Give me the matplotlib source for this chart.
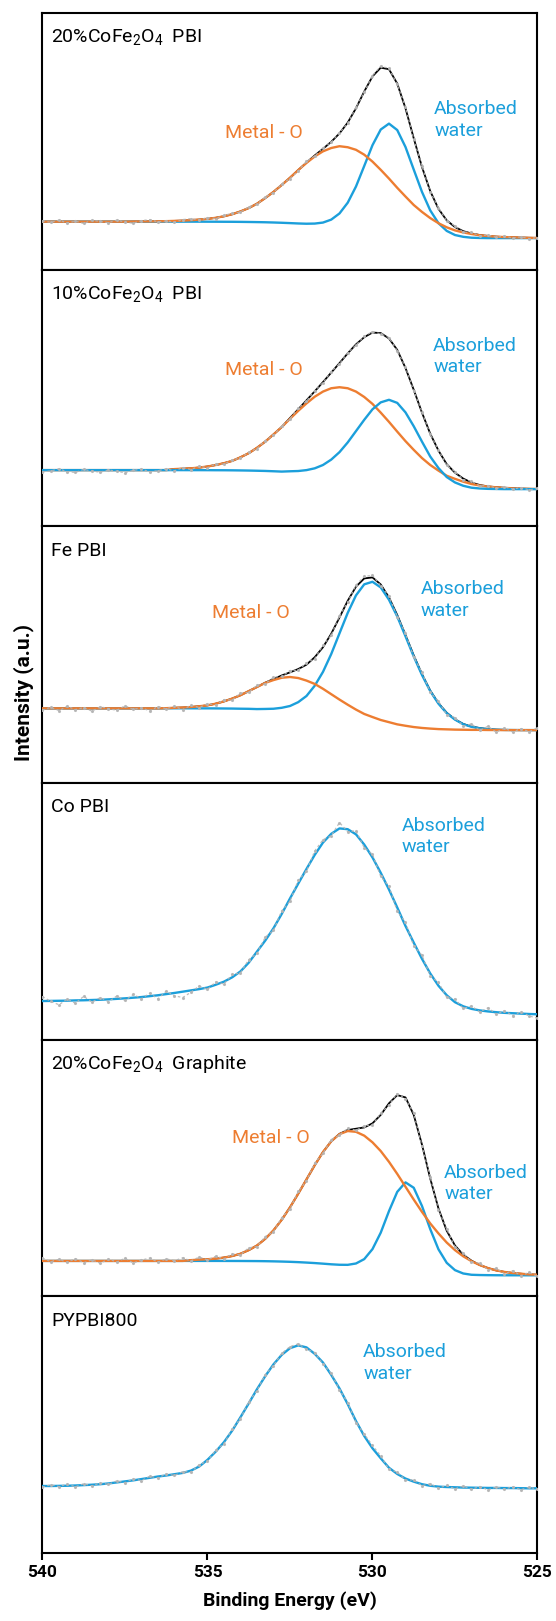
import numpy as np
import matplotlib.pyplot as plt

plt.rcParams['font.family'] = ['Roboto', 'DejaVu Sans']
plt.rcParams['mathtext.fontset'] = 'custom'
plt.rcParams['mathtext.rm'] = 'Roboto'
plt.rcParams['mathtext.it'] = 'Roboto:italic'
plt.rcParams['mathtext.bf'] = 'Roboto:bold'

ORANGE = '#ED7D31'
BLUE = '#1B9FDB'
RAW = '#b4b4b4'

# binding energy axis of the O 1s scans (eV), 0.25 eV steps
be = np.linspace(540, 525, 61)

# --- 20%CoFe2O4 PBI ---
raw_1 = [19.1, 18.4, 19.3, 18.2, 18.9, 18.0, 19.2, 18.8, 18.3, 19.3, 18.5, 18.1, 19.1, 19.5, 18.6, 19.0,
         18.5, 19.5, 19.9, 19.3, 20.3, 19.9, 21.2, 21.9, 22.4, 24.5, 25.4, 28.3, 30.0, 33.4, 35.5, 38.4,
         42.2, 44.3, 47.4, 49.6, 53.4, 57.0, 63.2, 69.1, 75.6, 79.3, 78.4, 72.2, 63.3, 50.8, 40.4, 30.3,
         24.1, 19.0, 17.0, 14.7, 14.5, 13.2, 13.5, 12.6, 13.1, 12.3, 12.8, 12.1, 12.5]
env_1 = [18.7, 18.7, 18.7, 18.7, 18.7, 18.7, 18.7, 18.7, 18.7, 18.7, 18.7, 18.75, 18.8, 18.8, 18.85, 18.9,
         19.0, 19.1, 19.3, 19.5, 19.8, 20.2, 20.8, 21.6, 22.7, 24.0, 25.7, 27.9, 30.3, 33.0, 35.8, 38.8,
         41.7, 44.5, 47.1, 49.8, 53.1, 57.3, 62.9, 69.4, 75.3, 78.7, 78.1, 72.5, 62.9, 51.2, 40.0, 30.6,
         23.7, 19.2, 16.6, 15.0, 14.1, 13.5, 13.1, 12.85, 12.7, 12.6, 12.5, 12.4, 12.35]
metal_1 = [18.7, 18.7, 18.7, 18.7, 18.7, 18.7, 18.7, 18.7, 18.7, 18.7, 18.7, 18.75, 18.8, 18.8, 18.85, 18.9,
           19.0, 19.1, 19.3, 19.5, 19.8, 20.2, 20.8, 21.6, 22.7, 24.0, 25.7, 27.9, 30.3, 33.0, 35.8, 38.8,
           41.6, 44.1, 46.1, 47.4, 48.1, 47.7, 46.7, 44.8, 42.1, 38.9, 35.5, 31.9, 28.5, 25.2, 22.5, 20.1,
           18.1, 16.5, 15.3, 14.5, 13.9, 13.4, 13.1, 12.85, 12.7, 12.6, 12.5, 12.4, 12.35]
water_1 = [18.7, 18.7, 18.7, 18.7, 18.7, 18.7, 18.7, 18.7, 18.7, 18.7, 18.7, 18.7, 18.7, 18.7, 18.7, 18.7,
           18.7, 18.7, 18.7, 18.7, 18.69, 18.68, 18.66, 18.65, 18.62, 18.58, 18.53, 18.47, 18.38, 18.27,
           18.14, 18.0, 17.9, 17.96, 18.35, 19.5, 21.9, 26.1, 32.4, 40.4, 48.5, 54.6, 56.9, 54.4, 47.8,
           39.0, 30.3, 23.1, 18.1, 15.1, 13.5, 12.8, 12.45, 12.35, 12.3, 12.3, 12.3, 12.3, 12.3, 12.3, 12.3]

# --- 10%CoFe2O4 PBI ---
raw_2 = [21.2, 21.6, 22.4, 21.3, 21.0, 22.2, 21.5, 21.1, 22.0, 21.4, 20.9, 21.8, 22.3, 21.2, 21.7, 22.4,
         21.6, 22.9, 22.1, 23.4, 22.8, 24.3, 24.2, 25.9, 26.6, 28.9, 30.3, 33.4, 35.5, 39.1, 41.9, 46.0,
         48.8, 52.9, 56.0, 60.3, 63.3, 67.7, 70.6, 74.1, 75.8, 75.0, 73.5, 68.4, 62.0, 52.9, 44.6, 35.8,
         29.8, 23.8, 21.3, 18.2, 17.5, 15.7, 15.9, 14.8, 15.4, 14.5, 15.1, 14.2, 14.8]
env_2 = [21.9, 21.9, 21.9, 21.9, 21.9, 21.9, 21.9, 21.9, 21.9, 21.9, 21.9, 21.9, 21.9, 21.9, 21.9, 21.9,
         22.3, 22.45, 22.6, 22.9, 23.3, 23.9, 24.6, 25.5, 26.9, 28.5, 30.6, 33.0, 35.8, 38.7,
         42.2, 45.6, 49.1, 52.6, 56.2, 59.9, 63.6, 67.4, 70.9, 73.7, 75.5, 75.3, 73.2, 68.75, 61.7,
         53.2, 44.3, 36.1, 29.5, 24.2, 20.9, 18.6, 17.05, 16.1, 15.55, 15.25, 15.0, 14.85, 14.7, 14.6, 14.55]
metal_2 = [21.9, 21.9, 21.9, 21.9, 21.9, 21.9, 21.9, 21.9, 21.9, 21.9, 21.9, 21.9, 21.9, 21.9, 21.9, 21.9,
           22.3, 22.45, 22.6, 22.9, 23.3, 23.9, 24.6, 25.5, 26.9, 28.5, 30.6, 33.0, 35.8, 38.7,
           41.9, 45.0, 47.9, 50.5, 52.5, 53.8, 54.2, 53.8, 52.5, 50.4, 47.7, 44.3, 40.7, 36.9, 33.2,
           29.8, 26.6, 23.9, 21.7, 19.7, 18.5, 17.4, 16.5, 15.9, 15.5, 15.2, 15.0, 14.8, 14.7, 14.6, 14.55]
water_2 = [21.9, 21.9, 21.9, 21.9, 21.9, 21.9, 21.9, 21.9, 21.9, 21.9, 21.9, 21.9, 21.9, 21.9, 21.9, 21.9,
           21.9, 21.9, 21.89, 21.89, 21.88, 21.86, 21.85, 21.82, 21.78, 21.73, 21.66, 21.58, 21.46, 21.33,
           21.45, 21.55, 21.9, 22.6, 23.9, 26.0, 28.9, 32.7, 37.1, 41.5, 45.6, 48.3, 49.3, 48.1, 44.4,
           39.0, 33.0, 27.2, 22.7, 19.2, 17.1, 15.8, 15.05, 14.75, 14.6, 14.55, 14.5, 14.5, 14.5, 14.5, 14.5]

# --- Fe PBI ---
raw_3 = [28.4, 29.5, 28.2, 29.9, 28.6, 29.4, 28.0, 29.7, 29.0, 28.3, 30.1, 28.7, 29.3, 28.1, 29.8, 28.9,
         29.9, 28.6, 30.3, 29.4, 30.9, 30.4, 32.5, 32.3, 35.0, 35.3, 38.1, 38.6, 41.2, 41.5, 43.8, 43.9,
         46.8, 48.5, 53.6, 57.6, 65.1, 70.5, 77.1, 80.5, 80.9, 76.8, 72.9, 64.8, 58.4, 49.0, 43.1, 35.3,
         31.9, 26.6, 25.5, 22.2, 23.0, 20.5, 22.1, 19.8, 21.4, 19.9, 21.2, 20.0, 21.5]
env_3 = [29.1, 29.1, 29.1, 29.1, 29.1, 29.1, 29.1, 29.1, 29.1, 29.1, 29.1, 29.1, 29.1, 29.1, 29.1,
         29.15, 29.3, 29.4, 29.6, 29.9, 30.25, 30.9, 31.8, 32.9, 34.2, 35.8, 37.4,
         39.1, 40.5, 41.9, 43.1, 44.4, 46.1, 49.0, 52.9, 58.15, 64.5, 71.0, 76.5, 79.7, 80.1, 77.35,
         72.3, 65.45, 57.7, 49.7, 42.4, 36.0, 31.1, 27.35, 24.8, 23.0, 22.0, 21.4, 21.0, 20.8, 20.7,
         20.65, 20.6, 20.6, 20.6]
metal_3 = [29.1, 29.1, 29.1, 29.1, 29.1, 29.1, 29.1, 29.1, 29.1, 29.1, 29.1, 29.1, 29.1, 29.1, 29.1,
           29.15, 29.3, 29.4, 29.6, 29.9, 30.25, 30.9, 31.8, 32.9, 34.2, 35.8, 37.4, 39.0, 40.1, 41.0,
           41.3, 40.9, 39.9, 38.6, 36.7, 34.6, 32.5, 30.5, 28.6, 26.9, 25.7, 24.55, 23.7, 22.85, 22.3,
           21.8, 21.45, 21.2, 21.0, 20.9, 20.8, 20.75, 20.7, 20.7, 20.65, 20.63, 20.62, 20.61, 20.6,
           20.6, 20.6]
water_3 = [29.1, 29.1, 29.1, 29.1, 29.1, 29.1, 29.1, 29.1, 29.1, 29.1, 29.1, 29.1, 29.1, 29.1, 29.1,
           29.1, 29.1, 29.1, 29.09, 29.08, 29.08, 29.06, 29.03, 29.0, 28.94, 28.9, 28.8, 28.85, 28.93,
           29.3, 30.0, 31.5, 33.9, 37.9, 43.3, 50.25, 58.3, 66.3, 73.1, 77.4, 78.4, 76.2, 71.4, 64.9,
           57.2, 49.3, 42.1, 35.8, 30.9, 27.2, 24.7, 22.9, 21.9, 21.3, 20.95, 20.75, 20.67, 20.63, 20.61,
           20.6, 20.6]

# --- Co PBI ---
raw_4 = [16.8, 14.9, 13.6, 15.8, 14.2, 16.9, 14.6, 16.4, 14.8, 17.0, 15.3, 17.6, 16.0, 18.1, 15.9, 18.9,
         17.1, 16.4, 18.5, 20.9, 19.6, 22.5, 21.7, 25.4, 26.0, 31.2, 33.6, 39.9, 42.6, 50.2, 53.9, 62.1,
         65.6, 73.5, 77.9, 79.4, 84.6, 81.0, 81.4, 74.8, 72.2, 63.6, 59.8, 50.1, 45.7, 36.5, 32.9, 24.9,
         22.3, 16.5, 15.8, 12.2, 13.1, 10.8, 12.4, 9.9, 11.3, 9.4, 10.9, 9.2, 8.4]
water_4 = [15.05, 15.1, 15.15, 15.2, 15.3, 15.35, 15.45, 15.55, 15.7, 15.9, 16.1, 16.35, 16.6, 16.95,
           17.3, 17.75, 18.2, 18.7, 19.2, 19.7, 20.3, 21.4, 22.6, 24.3, 26.6, 30.0, 34.3, 38.6, 43.4,
           49.0, 55.0, 60.8, 66.5, 72.0, 76.8, 80.2, 82.3, 82.0, 80.0, 76.0, 71.0, 65.0, 58.5, 51.5,
           44.3, 37.8, 31.5, 25.8, 21.0, 17.3, 14.6, 13.0, 12.0, 11.4, 11.0, 10.7, 10.45, 10.3, 10.15,
           10.0, 9.9]

# --- 20%CoFe2O4 Graphite ---
raw_5 = [14.9, 13.5, 14.4, 13.2, 14.7, 13.1, 14.2, 12.9, 14.5, 13.4, 14.8, 13.0, 14.1, 14.9, 13.3, 14.6,
         13.9, 15.0, 13.8, 15.3, 14.2, 15.6, 14.6, 16.5, 16.2, 18.9, 19.4, 23.3, 25.1, 30.7, 34.0, 40.9,
         45.0, 52.0, 55.7, 61.1, 62.8, 65.5, 64.7, 66.4, 66.9, 71.3, 74.6, 79.0, 77.0, 71.3, 58.6, 46.5,
         33.7, 26.2, 19.2, 16.9, 13.3, 12.9, 10.3, 10.9, 8.8, 10.0, 8.1, 9.3, 7.8]
env_5 = [13.8, 13.8, 13.8, 13.8, 13.8, 13.8, 13.8, 13.8, 13.8, 13.8, 13.8, 13.8, 13.8, 13.8, 13.8, 13.8,
         13.8, 13.8, 14.1, 14.3, 14.45, 14.7, 15.1, 15.7, 16.6, 18.0, 19.8, 22.4, 25.7, 29.85, 34.65,
         40.0, 45.55, 51.1, 56.2, 60.4, 63.3, 64.8, 65.3, 65.8, 67.4, 70.7, 75.2, 78.4, 77.5, 70.7,
         59.1, 45.9, 34.2, 25.55, 19.8, 16.2, 13.9, 12.2, 11.0, 10.1, 9.5, 9.1, 8.8, 8.55, 8.4]
metal_5 = [13.8, 13.8, 13.8, 13.8, 13.8, 13.8, 13.8, 13.8, 13.8, 13.8, 13.8, 13.8, 13.8, 13.8, 13.8, 13.8,
           13.8, 13.8, 14.1, 14.3, 14.45, 14.7, 15.1, 15.7, 16.6, 18.0, 19.8, 22.4, 25.7, 29.85, 34.65,
           40.0, 45.55, 51.1, 56.2, 60.4, 63.2, 64.4, 64.1, 62.6, 60.0, 56.6, 52.4, 47.7, 42.7, 37.7,
           32.9, 28.4, 24.5, 20.95, 18.0, 15.6, 13.7, 12.2, 11.0, 10.1, 9.5, 9.1, 8.8, 8.55, 8.4]
water_5 = [13.8, 13.8, 13.8, 13.8, 13.8, 13.8, 13.8, 13.8, 13.8, 13.8, 13.8, 13.8, 13.8, 13.8, 13.8, 13.8,
           13.8, 13.8, 13.8, 13.8, 13.8, 13.8, 13.79, 13.78, 13.77, 13.75, 13.73, 13.69, 13.63, 13.55,
           13.45, 13.32, 13.15, 12.96, 12.73, 12.48, 12.3, 12.27, 12.8, 14.5, 18.4, 24.8, 33.2, 40.7,
           44.4, 42.3, 35.2, 26.2, 18.3, 13.05, 10.2, 8.9, 8.4, 8.3, 8.25, 8.22, 8.2, 8.2, 8.2, 8.2, 8.2]

# --- PYPBI800 ---
raw_6 = [25.7, 26.6, 25.9, 26.8, 25.8, 27.0, 26.2, 27.3, 26.7, 28.1, 27.4, 28.9, 28.2, 29.9, 29.3, 30.8,
         30.2, 31.7, 31.6, 34.4, 35.8, 40.1, 42.6, 48.3, 52.4, 58.9, 63.3, 69.5, 73.0, 77.8, 80.4, 81.5,
         79.4, 78.1, 73.6, 70.0, 63.6, 58.6, 50.8, 46.3, 41.9, 37.8, 32.6, 31.5, 28.4, 28.5, 26.2, 27.0,
         25.3, 26.3, 25.0, 26.1, 24.8, 25.9, 24.6, 25.7, 24.9, 25.8, 24.7, 25.6, 24.9]
water_6 = [26.1, 26.1, 26.15, 26.2, 26.3, 26.45, 26.6, 26.8, 27.1, 27.5, 27.9, 28.3, 28.8, 29.3, 29.8,
           30.2, 30.7, 31.2, 32.1, 33.7, 36.3, 39.5, 43.2, 47.7, 52.9, 58.3, 63.8, 68.9, 73.5, 77.2,
           79.8, 80.9, 80.1, 77.6, 74.2, 69.4, 64.1, 58.0, 51.4, 45.6, 40.8, 36.9, 33.2, 30.8, 29.0,
           27.8, 26.8, 26.2, 25.85, 25.7, 25.6, 25.5, 25.45, 25.4, 25.35, 25.35, 25.3, 25.3, 25.25,
           25.2, 25.2]

sample_names = ['20%CoFe$_2$O$_4$  PBI', '10%CoFe$_2$O$_4$  PBI', 'Fe PBI', 'Co PBI',
                '20%CoFe$_2$O$_4$  Graphite', 'PYPBI800']

panels = [
    dict(raw=raw_1, env=env_1, metal=metal_1, water=water_1, metal_top=True,
         metal_xy=(534.47, 53.4), water_xy=(528.13, 58.4)),
    dict(raw=raw_2, env=env_2, metal=metal_2, water=water_2, metal_top=False,
         metal_xy=(534.47, 60.9), water_xy=(528.16, 66.2)),
    dict(raw=raw_3, env=env_3, metal=metal_3, water=water_3, metal_top=True,
         metal_xy=(534.87, 66.1), water_xy=(528.54, 71.3)),
    dict(raw=raw_4, env=None, metal=None, water=water_4, metal_top=False,
         metal_xy=None, water_xy=(529.11, 79.2)),
    dict(raw=raw_5, env=env_5, metal=metal_5, water=water_5, metal_top=True,
         metal_xy=(534.26, 61.8), water_xy=(527.83, 43.9)),
    dict(raw=raw_6, env=None, metal=None, water=water_6, metal_top=False,
         metal_xy=None, water_xy=(530.28, 74.0)),
]

fig = plt.figure(figsize=(5.56, 16.21), dpi=100)
gs = fig.add_gridspec(6, 1, left=0.0764, right=0.9667, bottom=0.04195, top=0.99198, hspace=0)

for k, (p, name) in enumerate(zip(panels, sample_names)):
    ax = fig.add_subplot(gs[k])
    if p['env'] is not None:
        ax.plot(be, p['env'], color='black', lw=1.3, zorder=2)
    z_metal, z_water = (4, 3) if p['metal_top'] else (3, 4)
    if p['metal'] is not None:
        ax.plot(be, p['metal'], color=ORANGE, lw=1.7, zorder=z_metal)
    ax.plot(be, p['water'], color=BLUE, lw=1.7, zorder=z_water)
    # measured spectrum on top as a light dashed, dotted trace
    ax.plot(be, p['raw'], color=RAW, lw=0.9, ls=(0, (2, 2)), marker='.', ms=2.5,
            alpha=0.9, zorder=5)

    ax.text(0.018, 0.905, name, transform=ax.transAxes, fontsize=14, ha='left', va='center')
    if p['metal_xy'] is not None:
        ax.text(*p['metal_xy'], 'Metal - O', color=ORANGE, fontsize=14, ha='left', va='center')
    ax.text(*p['water_xy'], 'Absorbed\nwater', color=BLUE, fontsize=14, ha='left', va='center',
            linespacing=1.25)

    ax.set_xlim(540, 525)
    ax.set_ylim(0, 100)
    ax.set_yticks([])
    for s in ax.spines.values():
        s.set_linewidth(1.5)
    if k < 5:
        ax.set_xticks([])
    else:
        ax.set_xticks([540, 535, 530, 525])
        ax.tick_params(axis='x', direction='out', length=5, width=1.5, pad=4)
        for lab in ax.get_xticklabels():
            lab.set_fontweight('bold')
            lab.set_fontsize(12.5)
        ax.set_xlabel('Binding Energy (eV)', fontsize=14, fontweight='bold', labelpad=8)

fig.text(0.043, 0.5725, 'Intensity (a.u.)', rotation=90, ha='center', va='center',
         fontsize=15, fontweight='bold')

fig.savefig('out.png', dpi=100)
